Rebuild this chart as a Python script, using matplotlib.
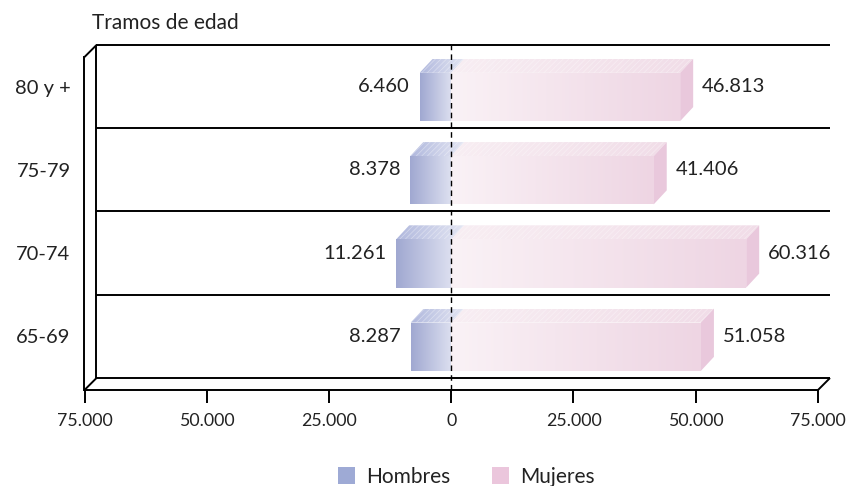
import matplotlib
matplotlib.use("Agg")
import matplotlib.pyplot as plt
import numpy as np
from matplotlib.colors import LinearSegmentedColormap
from matplotlib.patches import Polygon, Patch

plt.rcParams["font.family"] = ["Lato", "DejaVu Sans"]
plt.rcParams["hatch.linewidth"] = 0.6

# data (bottom to top)
categories = ["65-69", "70-74", "75-79", "80 y +"]
hombres = [8287, 11261, 8378, 6460]
mujeres = [51058, 60316, 41406, 46813]
tick_values = [-75000, -50000, -25000, 0, 25000, 50000, 75000]
tick_labels = ["75.000", "50.000", "25.000", "0", "25.000", "50.000", "75.000"]

TEXT = "#222222"
W, H = 853, 486

fig = plt.figure(figsize=(W / 100, H / 100), dpi=100)
# front plane of the box: x from 84.5 px to 818 px, y from 390 px to 57 px (from top)
ax = fig.add_axes([84.5 / W, 96 / H, 733.5 / W, 333 / H])
ax.set_xlim(-75000, 75000)
ax.set_ylim(0, 4)

px_x = 150000 / 733.5   # data units per pixel, x
px_y = 4 / 333          # data units per pixel, y
dxf, dyf = 12 * px_x, 12 * px_y     # depth of the floor / walls
bdx, bdy = 13 * px_x, 14 * px_y     # depth of the bars
bar_h = 0.58
line_kw = dict(color="black", lw=1.4, clip_on=False, solid_capstyle="butt")

# back wall and floor
xl, xr = -75000, 75000
for k in range(5):
    ax.plot([xl + dxf, xr + dxf], [k + dyf, k + dyf], **line_kw)
ax.plot([xl, xl + dxf], [0, dyf], **line_kw)
ax.plot([xr, xr + dxf], [0, dyf], **line_kw)
ax.plot([xl, xl + dxf], [4, 4 + dyf], **line_kw)
ax.plot([xl + dxf, xl + dxf], [dyf, 4 + dyf], **line_kw)


def gradient_fill(patch, c0, c1, x0, x1, y0, y1, z):
    cmap = LinearSegmentedColormap.from_list("g", [c0, c1])
    im = ax.imshow(np.linspace(0, 1, 256).reshape(1, -1), cmap=cmap,
                   extent=[x0, x1, y0, y1], aspect="auto",
                   interpolation="bilinear", zorder=z)
    im.set_clip_path(patch)


ypos = np.arange(len(categories)) + 0.52
men_bars = ax.barh(ypos, [-v for v in hombres], height=bar_h, left=0,
                   color="none", edgecolor="none", zorder=3)
women_bars = ax.barh(ypos, mujeres, height=bar_h, left=0,
                     color="none", edgecolor="none", zorder=3)

for i, (bm, bw) in enumerate(zip(men_bars, women_bars)):
    y0 = bm.get_y()
    y1 = y0 + bm.get_height()
    hm = hombres[i]
    mw = mujeres[i]

    # men: top face then front face
    top_m = Polygon([(-hm, y1), (0, y1), (bdx, y1 + bdy), (-hm + bdx, y1 + bdy)],
                    closed=True, facecolor="none", edgecolor="none")
    ax.add_patch(top_m)
    gradient_fill(top_m, "#b0b8dd", "#e4e6f3", -hm, bdx, y1, y1 + bdy, 2)
    ax.add_patch(Polygon(top_m.get_xy(), closed=True, facecolor="none",
                         edgecolor="#ffffff", hatch="//////", lw=0,
                         alpha=0.35, zorder=2.1))
    gradient_fill(bm, "#a0a8d1", "#dde0f0", -hm, 0, y0, y1, 3)

    # women: top face, side face, front face
    top_w = Polygon([(0, y1), (mw, y1), (mw + bdx, y1 + bdy), (bdx, y1 + bdy)],
                    closed=True, facecolor="none", edgecolor="none")
    ax.add_patch(top_w)
    gradient_fill(top_w, "#f8eef3", "#f1dde8", 0, mw + bdx, y1, y1 + bdy, 2)
    ax.add_patch(Polygon(top_w.get_xy(), closed=True, facecolor="none",
                         edgecolor="#ffffff", hatch="//////", lw=0,
                         alpha=0.35, zorder=2.1))
    ax.add_patch(Polygon([(mw, y0), (mw + bdx, y0 + bdy), (mw + bdx, y1 + bdy), (mw, y1)],
                         closed=True, facecolor="#e9c8dc", edgecolor="none", zorder=3))
    gradient_fill(bw, "#faf2f6", "#eed5e3", 0, mw, y0, y1, 3)

    # value labels
    yl = i + 0.5 + dyf
    ax.text(-hm - 10 * px_x, yl, f"{hm:,}".replace(",", "."), ha="right",
            va="center", fontsize=14.5, color=TEXT, zorder=5)
    ax.text(mw + bdx + 9 * px_x, yl, f"{mw:,}".replace(",", "."), ha="left",
            va="center", fontsize=14.5, color=TEXT, zorder=5)

ax.set_xlim(-75000, 75000)
ax.set_ylim(0, 4)

# zero line
ax.plot([0, 0], [0, 4 + dyf], color="black", lw=1.0, ls=(0, (4, 3)),
        clip_on=False, zorder=6)

# axes styling
for side in ["top", "right"]:
    ax.spines[side].set_visible(False)
ax.spines["bottom"].set_linewidth(1.4)
ax.spines["left"].set_linewidth(1.4)
ax.set_xticks(tick_values)
ax.set_xticklabels(tick_labels)
ax.tick_params(axis="x", direction="out", length=9.4, width=1.4, pad=7,
               labelsize=12.8, labelcolor=TEXT)
ax.set_yticks(np.arange(len(categories)) + 0.5 + dyf)
ax.set_yticklabels(categories)
ax.tick_params(axis="y", length=0, pad=10, labelsize=14.5, labelcolor=TEXT)

fig.text(92 / W, 1 - 23 / H, "Tramos de edad", ha="left", va="center",
         fontsize=15, color=TEXT)

handles = [Patch(facecolor="#9eaad5", edgecolor="none"),
           Patch(facecolor="#ebc6dc", edgecolor="none")]
fig.legend(handles, ["Hombres", "Mujeres"], loc="center",
           bbox_to_anchor=(466 / W, 1 - 477 / H), ncol=2, frameon=False,
           fontsize=15, handlelength=0.85, handleheight=0.85,
           handletextpad=0.5, columnspacing=2.0, labelcolor=TEXT)

fig.savefig("out.png", dpi=100)
